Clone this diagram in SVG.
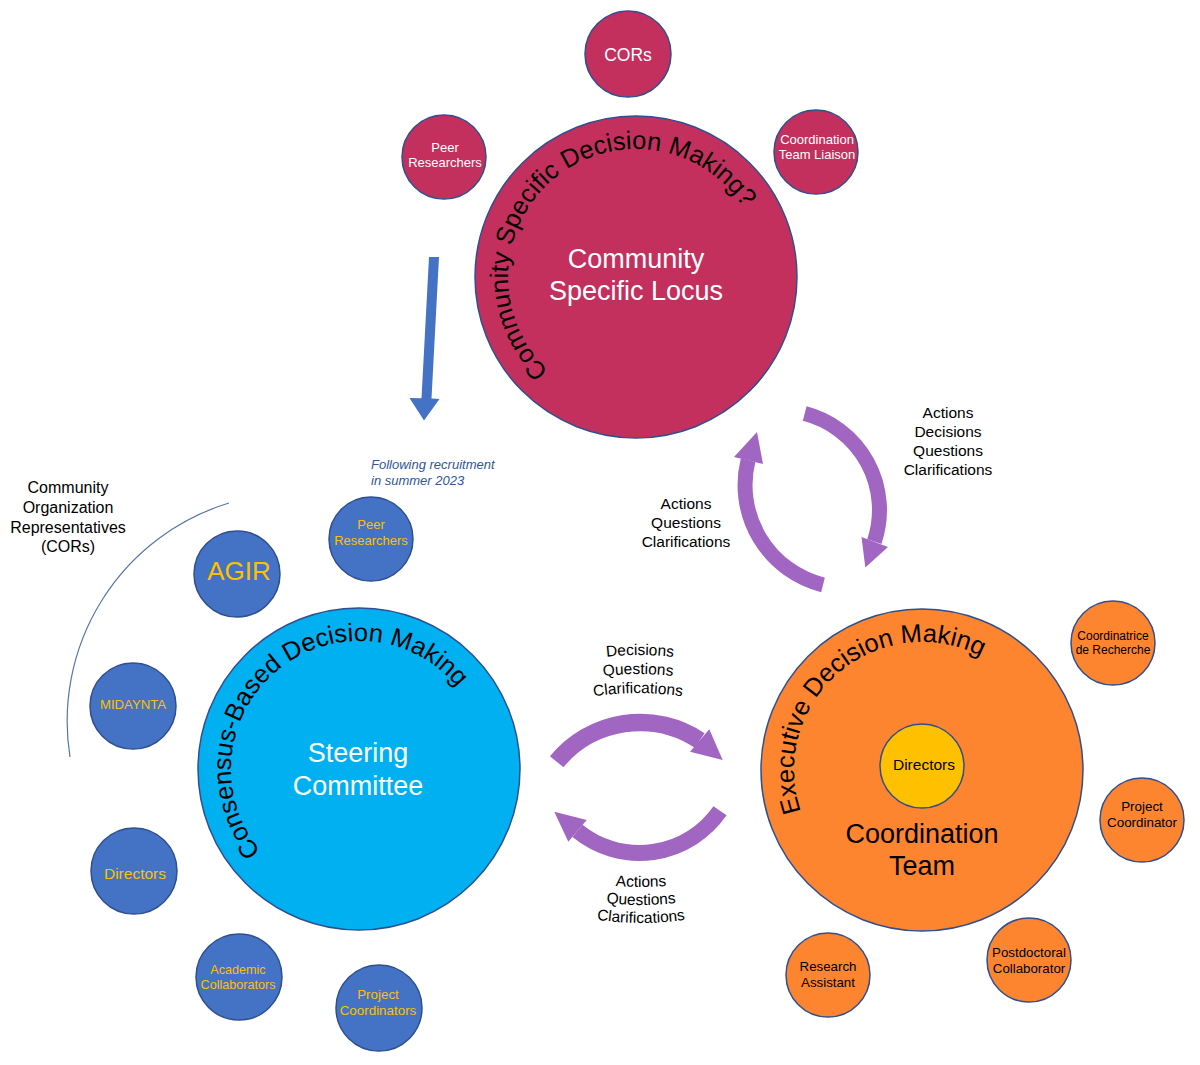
<svg xmlns="http://www.w3.org/2000/svg" xmlns:xlink="http://www.w3.org/1999/xlink" width="1200" height="1065" viewBox="0 0 1200 1065">
<style>
text{font-family:"Liberation Sans",Arial,Helvetica,sans-serif;text-anchor:middle}
.ring{stroke:#2F4F8F;stroke-width:1.5}
.crim{fill:#C3305E}
.blue{fill:#4472C4}
.sky{fill:#00B0F0}
.orng{fill:#FD8530}
.yel{fill:#FFC000}
.w{fill:#FFFFFF}
.k{fill:#000000}
.g{fill:#FFC000}
.arc{font-size:25.5px;text-anchor:start;fill:#000}
.lbl{font-size:15.5px;fill:#000}
.pa{fill:none;stroke:#A066C2;stroke-linecap:butt}
.ph{fill:#A066C2}
</style>
<defs>
<path id="arcCommunity" d="M 548.7 370.6 A 128 128 0 1 1 763.8 283.7"/>
<path id="arcSteering" d="M 260.95 851.28 A 128 128 0 1 1 485.06 791.23"/>
<path id="arcExecutive" d="M 800.98 811.67 A 128 128 0 1 1 1049.98 772.23"/>
<path id="tm1" d="M 540 672.2 A 300 300 0 0 1 740 672.2"/>
<path id="tm2" d="M 538 691.2 A 300 300 0 0 1 738 691.2"/>
<path id="tm3" d="M 538 710.2 A 300 300 0 0 1 738 710.2"/>
<path id="bm1" d="M 541 869.8 A 300 300 0 0 0 741 869.8"/>
<path id="bm2" d="M 541 887.8 A 300 300 0 0 0 741 887.8"/>
<path id="bm3" d="M 541 905.8 A 300 300 0 0 0 741 905.8"/>
</defs>
<rect width="1200" height="1065" fill="#FFFFFF"/>

<g id="connectors">
<path id="cors-arc" d="M 229 503 A 228 228 0 0 0 70 757" fill="none" stroke="#5874A8" stroke-width="1.2"/>
<polygon id="recruit-arrow" points="429,257 439,257 431.5,398.5 439.5,399 424,420.5 409.5,398 421.5,398.3" fill="#4472C4"/>
<g id="arrow-locus-to-coord">
<path class="pa" stroke-width="15" d="M 804.7 413.6 A 99.5 99.5 0 0 1 874.3 541.7"/>
<polygon class="ph" points="861.5,537 888,547 865.3,567.5"/>
</g>
<g id="arrow-coord-to-locus">
<path class="pa" stroke-width="15" d="M 823 584.9 A 103 103 0 0 1 748.1 460.1"/>
<polygon class="ph" points="734,457 763,464 757,432"/>
</g>
<g id="arrow-steering-to-coord">
<path class="pa" stroke-width="17.5" d="M 556.7 761.7 A 108 108 0 0 1 699.7 740.5"/>
<polygon class="ph" points="690,751.7 709.3,729.3 722.7,760"/>
</g>
<g id="arrow-coord-to-steering">
<path class="pa" stroke-width="16" d="M 720 810.8 A 98 98 0 0 1 577.5 830.9"/>
<polygon class="ph" points="568.3,841.7 586.7,820 554.3,811.7"/>
</g>
</g>

<g id="labels">
<g id="label-cors">
<text x="68" y="493" font-size="16">Community</text>
<text x="68" y="513" font-size="16">Organization</text>
<text x="68" y="533" font-size="16">Representatives</text>
<text x="68" y="552" font-size="16">(CORs)</text>
</g>
<g id="label-recruitment">
<text x="371" y="469" font-size="13" font-style="italic" fill="#2F5597" style="text-anchor:start">Following recruitment</text>
<text x="371" y="485" font-size="13" font-style="italic" fill="#2F5597" style="text-anchor:start">in summer 2023</text>
</g>
<g id="label-right">
<text class="lbl" x="948" y="418">Actions</text>
<text class="lbl" x="948" y="437">Decisions</text>
<text class="lbl" x="948" y="456">Questions</text>
<text class="lbl" x="948" y="475">Clarifications</text>
</g>
<g id="label-left">
<text class="lbl" x="686" y="509">Actions</text>
<text class="lbl" x="686" y="528">Questions</text>
<text class="lbl" x="686" y="547">Clarifications</text>
</g>
<g id="label-top-mid">
<text class="lbl"><textPath xlink:href="#tm1" href="#tm1" startOffset="50%">Decisions</textPath></text>
<text class="lbl"><textPath xlink:href="#tm2" href="#tm2" startOffset="50%">Questions</textPath></text>
<text class="lbl"><textPath xlink:href="#tm3" href="#tm3" startOffset="50%">Clarifications</textPath></text>
</g>
<g id="label-bottom-mid">
<text class="lbl"><textPath xlink:href="#bm1" href="#bm1" startOffset="50%">Actions</textPath></text>
<text class="lbl"><textPath xlink:href="#bm2" href="#bm2" startOffset="50%">Questions</textPath></text>
<text class="lbl"><textPath xlink:href="#bm3" href="#bm3" startOffset="50%">Clarifications</textPath></text>
</g>
</g>

<g id="community-locus">
<circle class="crim ring" cx="636" cy="277" r="161"/>
<text class="arc"><textPath xlink:href="#arcCommunity" href="#arcCommunity">Community Specific Decision Making?</textPath></text>
<text class="w" x="636" y="268" font-size="27">Community</text>
<text class="w" x="636" y="300" font-size="27">Specific Locus</text>
</g>
<g id="cors-top">
<circle class="crim ring" cx="628" cy="54" r="43"/>
<text class="w" x="628" y="61" font-size="17.5">CORs</text>
</g>
<g id="peer-researchers-top">
<circle class="crim ring" cx="444" cy="157" r="42"/>
<text class="w" x="445" y="152" font-size="13">Peer</text>
<text class="w" x="445" y="167" font-size="13">Researchers</text>
</g>
<g id="coordination-team-liaison">
<circle class="crim ring" cx="816" cy="152" r="42"/>
<text class="w" x="817" y="144" font-size="13">Coordination</text>
<text class="w" x="817" y="159" font-size="13">Team Liaison</text>
</g>

<g id="steering-committee">
<circle class="sky ring" cx="359" cy="769" r="161"/>
<text class="arc"><textPath xlink:href="#arcSteering" href="#arcSteering">Consensus-Based Decision Making</textPath></text>
<text class="w" x="358" y="762" font-size="27">Steering</text>
<text class="w" x="358" y="795" font-size="27">Committee</text>
</g>
<g id="peer-researchers-blue">
<circle class="blue ring" cx="371" cy="539" r="42"/>
<text class="g" x="371" y="529" font-size="13">Peer</text>
<text class="g" x="371" y="545" font-size="13">Researchers</text>
</g>
<g id="agir">
<circle class="blue ring" cx="237" cy="574" r="43"/>
<text class="g" x="239" y="580" font-size="26">AGIR</text>
</g>
<g id="midaynta">
<circle class="blue ring" cx="133" cy="706" r="43"/>
<text class="g" x="133" y="709" font-size="13.2">MIDAYNTA</text>
</g>
<g id="directors-blue">
<circle class="blue ring" cx="134" cy="871" r="43"/>
<text class="g" x="135" y="879" font-size="15.5">Directors</text>
</g>
<g id="academic-collaborators">
<circle class="blue ring" cx="239" cy="977" r="43"/>
<text class="g" x="238" y="974" font-size="12.6">Academic</text>
<text class="g" x="238" y="989" font-size="12.6">Collaborators</text>
</g>
<g id="project-coordinators">
<circle class="blue ring" cx="379" cy="1008" r="43"/>
<text class="g" x="378" y="999" font-size="13.4">Project</text>
<text class="g" x="378" y="1015" font-size="13.4">Coordinators</text>
</g>

<g id="coordination-team">
<circle class="orng ring" cx="922" cy="770" r="161"/>
<text class="arc"><textPath xlink:href="#arcExecutive" href="#arcExecutive">Executive Decision Making</textPath></text>
<text class="k" x="922" y="843" font-size="27">Coordination</text>
<text class="k" x="922" y="875" font-size="27">Team</text>
</g>
<g id="directors-yellow">
<circle class="yel ring" cx="922" cy="766" r="42"/>
<text class="k" x="924" y="770" font-size="15.5">Directors</text>
</g>
<g id="coordinatrice">
<circle class="orng ring" cx="1113" cy="643" r="42"/>
<text class="k" x="1113" y="640" font-size="12">Coordinatrice</text>
<text class="k" x="1113" y="654" font-size="12">de Recherche</text>
</g>
<g id="project-coordinator">
<circle class="orng ring" cx="1142" cy="820" r="42"/>
<text class="k" x="1142" y="811" font-size="13.4">Project</text>
<text class="k" x="1142" y="827" font-size="13.4">Coordinator</text>
</g>
<g id="postdoctoral-collaborator">
<circle class="orng ring" cx="1029" cy="960" r="42"/>
<text class="k" x="1029" y="957" font-size="13.3">Postdoctoral</text>
<text class="k" x="1029" y="973" font-size="13.3">Collaborator</text>
</g>
<g id="research-assistant">
<circle class="orng ring" cx="828" cy="975" r="42"/>
<text class="k" x="828" y="971" font-size="13.3">Research</text>
<text class="k" x="828" y="987" font-size="13.3">Assistant</text>
</g>
</svg>
